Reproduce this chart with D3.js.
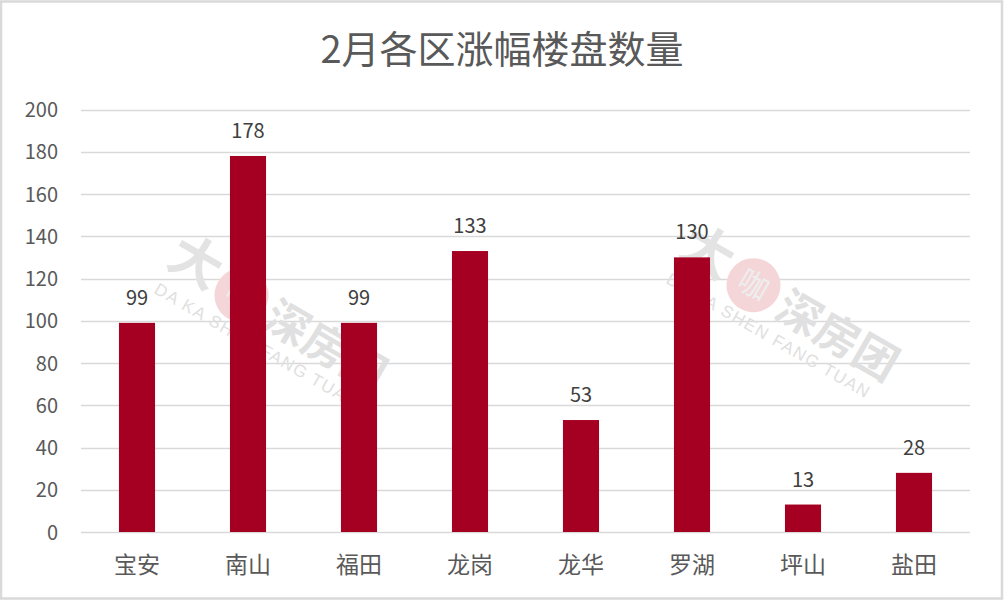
<!DOCTYPE html>
<html><head><meta charset="utf-8">
<script src="https://cdn.jsdelivr.net/npm/d3@7"></script>
<style>body{margin:0;background:#fff;}svg{display:block;}</style>
</head><body>
<svg id="c" width="1004" height="602"></svg>
<script>
const categories = ["宝安","南山","福田","龙岗","龙华","罗湖","坪山","盐田"];
const values = [99,178,99,133,53,130,13,28];
const yTicks = [0,20,40,60,80,100,120,140,160,180,200];
const title = "2月各区涨幅楼盘数量";
const watermarkCN = ["大","咖","深房团"];
const watermarkEN = "DA KA SHEN FANG TUAN";

const svg = d3.select("#c");
const W = 1004, H = 602;
const font = "'Noto Sans CJK SC','Microsoft YaHei',sans-serif";
svg.append("rect").attr("x",1).attr("y",1.5).attr("width",W-3).attr("height",H-5)
  .attr("fill","#fff").attr("stroke","#d9d9d9").attr("stroke-width",2.5);

const x = d3.scaleBand().domain(categories).range([81.5,969.5]).paddingInner(0.675).paddingOuter(0.3375);
const y = d3.scaleLinear().domain([0,200]).range([532,109.5]);

svg.append("text").attr("x",502).attr("y",63).attr("text-anchor","middle")
  .attr("font-family",font).attr("font-size",38).attr("fill","#595959").text(title);

const grid = svg.append("g");
grid.selectAll("line").data(yTicks).join("line")
  .attr("x1",81).attr("x2",970).attr("y1",d=>Math.round(y(d))+0.5).attr("y2",d=>Math.round(y(d))+0.5)
  .attr("stroke","#d9d9d9").attr("stroke-width",1.5);

// faint watermarks
function watermark(cx, cy){
  const g = svg.append("g").attr("transform",`translate(${cx},${cy}) rotate(30)`);
  g.append("text").attr("x",0).attr("y",0).attr("text-anchor","middle").attr("dy","0.35em")
    .attr("font-family",font).attr("font-weight","bold").attr("font-size",52).attr("fill","#e3e3e3").text(watermarkCN[0]);
  g.append("circle").attr("cx",56).attr("cy",6).attr("r",27).attr("fill","#f4d6d9");
  g.append("text").attr("x",56).attr("y",6).attr("text-anchor","middle").attr("dy","0.35em")
    .attr("font-family",font).attr("font-size",30).attr("fill","#eeeeee").text(watermarkCN[1]);
  g.append("text").attr("x",88).attr("y",8).attr("dy","0.35em")
    .attr("font-family",font).attr("font-weight","bold").attr("font-size",44).attr("fill","#e0e0e0").text(watermarkCN[2]);
  g.append("text").attr("x",-22).attr("y",48)
    .attr("font-family","'Liberation Sans',sans-serif").attr("font-size",17).attr("letter-spacing",1.5).attr("fill","#e0e0e0").text(watermarkEN);
}
watermark(196,262);
watermark(708,252);

const yAxis = d3.axisLeft(y).tickValues(yTicks).tickSize(0).tickPadding(0);
const ya = svg.append("g").attr("transform","translate(58,0)").call(yAxis);
ya.select(".domain").remove();
ya.selectAll("text").attr("font-family",font).attr("font-size",20).attr("fill","#595959").attr("dy","0.35em");

const xAxis = d3.axisBottom(x).tickSize(0).tickPadding(0);
const xa = svg.append("g").attr("transform","translate(0,532)").call(xAxis);
xa.select(".domain").remove();
xa.selectAll("text").attr("font-family",font).attr("font-size",23).attr("fill","#595959").attr("dy",0).attr("y",41);

svg.append("g").selectAll("rect").data(values).join("rect")
  .attr("x",(d,i)=>x(categories[i])).attr("width",x.bandwidth())
  .attr("y",d=>y(d)).attr("height",d=>y(0)-y(d)).attr("fill","#A50021");

svg.append("g").selectAll("text").data(values).join("text")
  .attr("x",(d,i)=>x(categories[i])+x.bandwidth()/2).attr("y",d=>y(d)-18)
  .attr("text-anchor","middle").attr("font-family",font).attr("font-size",20).attr("fill","#404040")
  .text(d=>d);
</script>
</body></html>
